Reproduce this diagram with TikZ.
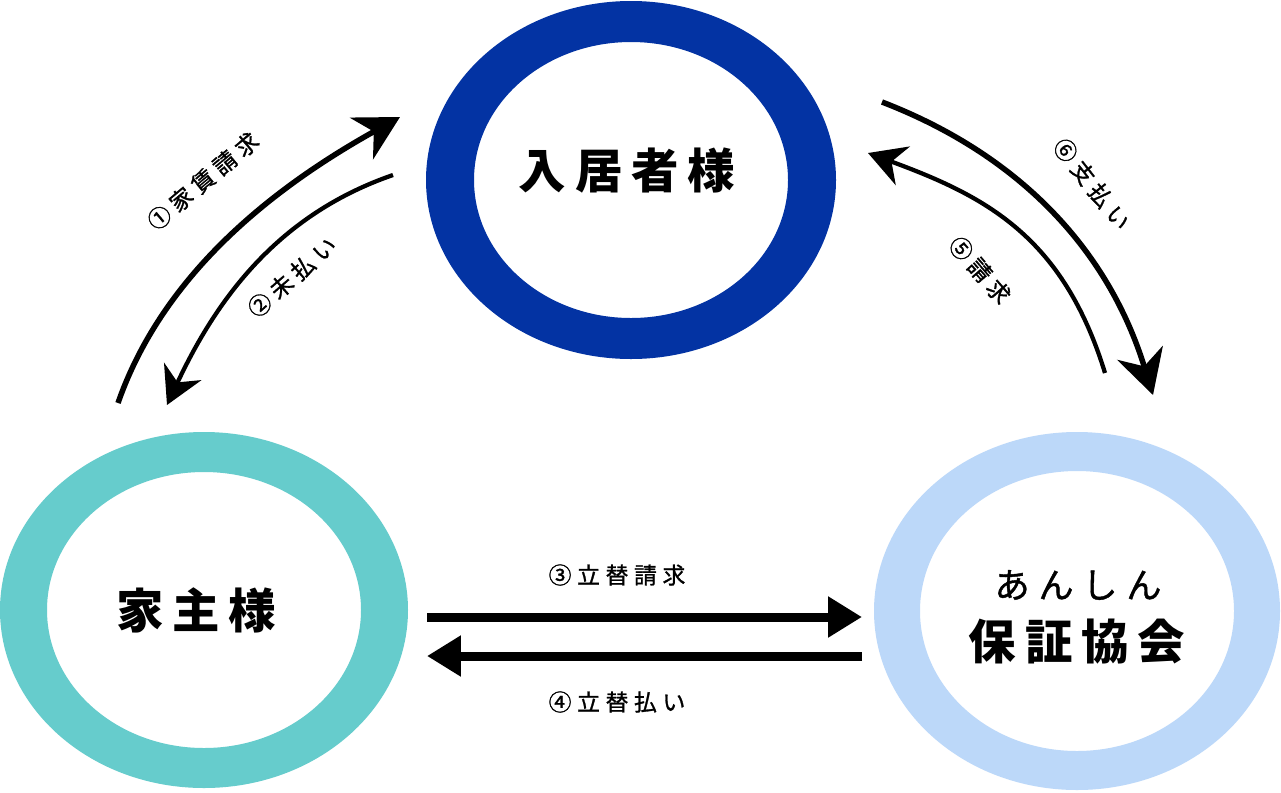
\documentclass[tikz,border=0pt]{standalone}
\usepackage{fontspec}
\newfontfamily\jp{Noto Sans CJK JP}
\newfontfamily\jpmed[FakeBold=1.2]{Noto Sans CJK JP}
\usetikzlibrary{arrows.meta}
\definecolor{tenantblue}{RGB}{3,51,163}
\definecolor{ownerteal}{RGB}{102,204,204}
\definecolor{assocblue}{RGB}{188,216,249}
\newcommand\lsA{\hspace{5pt}}
\newcommand\lsB{\hspace{3.2pt}}
\begin{document}
\begin{tikzpicture}[x=0.02cm,y=-0.02cm,
  mainlabel/.style={font=\jp\bfseries\fontsize{27}{30}\selectfont, inner sep=0pt},
  sublabel/.style={font=\jpmed\fontsize{20}{24}\selectfont, inner sep=0pt},
  edgelabel/.style={font=\jpmed\fontsize{13}{15}\selectfont, inner sep=0pt},
  bigarc/.style={line width=0.11cm, -{Stealth[length=0.88cm,width=0.95cm,inset=0.28cm]}},
  smallarc/.style={line width=0.085cm, -{Stealth[length=0.74cm,width=0.82cm,inset=0.24cm]}},
  straight/.style={line width=0.18cm, -{Triangle[length=0.68cm,width=0.78cm]}}]
\useasboundingbox (0,0) rectangle (1281,792);
\fill[white] (0,0) rectangle (1281,792);
% ring centres
\coordinate (tenantC) at (631,180);
\coordinate (ownerC) at (204,610);
\coordinate (assocC) at (1077,611);
% rings
\fill[tenantblue, even odd rule] (tenantC) ellipse [x radius=205, y radius=179]
   (tenantC) ellipse [x radius=157, y radius=138];
\fill[ownerteal, even odd rule] (ownerC) ellipse [x radius=204, y radius=178]
   (ownerC) ellipse [x radius=157, y radius=138];
\fill[assocblue, even odd rule] (assocC) ellipse [x radius=203, y radius=179]
   (assocC) ellipse [x radius=157, y radius=140];
% main labels
\node[mainlabel] (tenant) at (627,171) {入\lsA 居\lsA 者\lsA 様};
\node[mainlabel] (owner) at (196,610) {家\lsA 主\lsA 様};
\node[sublabel] (anshin) at (1078,585) {あ\lsA ん\lsA し\lsA ん};
\node[mainlabel] (assoc) at (1077,642) {保\lsA 証\lsA 協\lsA 会};
% arrow end points
\coordinate (a1s) at (118,403); \coordinate (a1e) at (400,117);
\coordinate (a2s) at (393,175); \coordinate (a2e) at (167,405);
\coordinate (a6s) at (882,102); \coordinate (a6e) at (1153,395);
\coordinate (a5s) at (1105,373); \coordinate (a5e) at (868,153);
\coordinate (a3s) at (427,617); \coordinate (a3e) at (862,617);
\coordinate (a4s) at (862,656); \coordinate (a4e) at (427,656);
% curved arrows
\draw[bigarc] (a1s) .. controls (164,271) and (278,185) .. (a1e);
\draw[smallarc] (a2s) .. controls (280,214) and (218,296) .. (a2e);
\draw[bigarc] (a6s) .. controls (1022,156) and (1109,252) .. (a6e);
\draw[smallarc] (a5s) .. controls (1063,236) and (985,196) .. (a5e);
% straight arrows
\draw[straight] (a3s) -- (a3e);
\draw[straight] (a4s) -- (a4e);
% edge labels
\node[edgelabel, rotate=40] (l1) at (203,181) {①\lsB 家\lsB 賃\lsB 請\lsB 求};
\node[edgelabel, rotate=41] (l2) at (292,277) {②\lsB 未\lsB 払\lsB い};
\node[edgelabel] (l3) at (617,575) {③\lsB 立\lsB 替\lsB 請\lsB 求};
\node[edgelabel] (l4) at (617,702) {④\lsB 立\lsB 替\lsB 払\lsB い};
\node[edgelabel, rotate=-52] (l6) at (1092,184) {⑥\lsB 支\lsB 払\lsB い};
\node[edgelabel, rotate=-49] (l5) at (980,270) {⑤\lsB 請\lsB 求};
\end{tikzpicture}
\end{document}
